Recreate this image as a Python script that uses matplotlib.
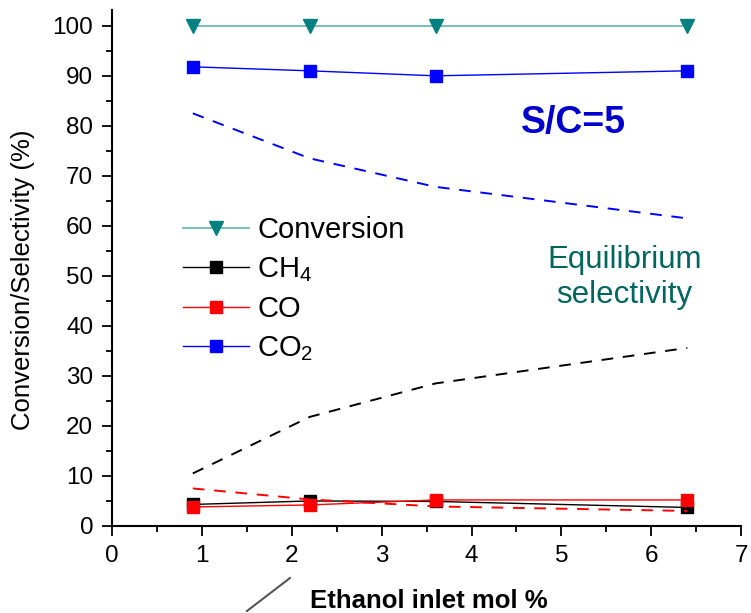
import numpy as np
import matplotlib.pyplot as plt
from matplotlib.lines import Line2D

plt.rcParams['font.family'] = ['Liberation Sans', 'DejaVu Sans']
plt.rcParams['mathtext.fontset'] = 'custom'
plt.rcParams['mathtext.rm'] = 'Liberation Sans'

# ethanol inlet mol %
ethanol = [0.9, 2.2, 3.6, 6.4]

# measured
conversion = [100, 100, 100, 100]
ch4 = [4.3, 5.0, 4.9, 3.7]
co = [3.8, 4.2, 5.2, 5.2]
co2 = [91.8, 91.0, 90.0, 91.0]

# equilibrium selectivity
eq_co2 = [82.5, 73.5, 67.8, 61.5]
eq_ch4 = [10.5, 21.8, 28.5, 35.6]
eq_co = [7.5, 5.3, 3.9, 3.0]

teal = '#008080'

fig = plt.figure(figsize=(7.51, 6.13), dpi=100)
ax = fig.add_axes([0.149, 0.142, 0.838, 0.842])

ax.plot(ethanol, conversion, color='#5fb3b0', lw=1.2, marker='v', ms=10.5,
        mfc=teal, mec=teal, label='Conversion')
ax.plot(ethanol, ch4, color='black', lw=1.0, marker='s', ms=8.5,
        label='CH$_4$')
ax.plot(ethanol, co, color='red', lw=1.0, marker='s', ms=8.5, label='CO')
ax.plot(ethanol, co2, color='blue', lw=1.0, marker='s', ms=8.5,
        label='CO$_2$')

ax.plot(ethanol, eq_co2, color='blue', lw=1.4, ls=(0, (6, 5)))
ax.plot(ethanol, eq_ch4, color='black', lw=1.4, ls=(0, (6, 5)))
ax.plot(ethanol, eq_co, color='red', lw=1.4, ls=(0, (6, 5)))

ax.set_xlim(0, 7)
ax.set_ylim(0, 103.2)
ax.set_xticks(range(0, 8))
ax.set_yticks(range(0, 101, 10))
ax.set_xticks(np.arange(0.5, 7, 1), minor=True)
ax.set_yticks(np.arange(5, 101, 10), minor=True)
ax.tick_params(which='major', direction='out', length=7.5, width=1.3,
               labelsize=17.5, pad=6)
ax.tick_params(which='minor', direction='out', length=4, width=1.3)
for s in ['top', 'right']:
    ax.spines[s].set_visible(False)
for s in ['left', 'bottom']:
    ax.spines[s].set_linewidth(1.5)

fig.text(23 / 751, 1 - 280 / 613, 'Conversion/Selectivity (%)', fontsize=18.5,
         rotation=90, ha='center', va='center')
fig.text(429 / 751, 5 / 613, 'Ethanol inlet mol %', fontsize=18.5,
         fontweight='bold', ha='center', va='baseline')

ax.text(0.733, 0.78, 'S/C=5', transform=ax.transAxes, color='#0000cc',
        fontsize=27, fontweight='bold', ha='center', va='center')
ax.text(0.814, 0.481, 'Equilibrium\nselectivity', transform=ax.transAxes,
        color='#00665e', fontsize=22.5, ha='center', va='center',
        linespacing=1.22)

leg = ax.legend(loc='upper left', bbox_to_anchor=(0.113, 0.6), frameon=False,
                fontsize=21, handlelength=2.25, handletextpad=0.3,
                labelspacing=0.38, borderpad=0, borderaxespad=0)

# stray diagonal stroke under the axis
fig.add_artist(Line2D([247 / 751, 290 / 751], [1 - 611 / 613, 1 - 578 / 613],
                      color='#555555', lw=1.5))

fig.savefig('out.png', dpi=100)
